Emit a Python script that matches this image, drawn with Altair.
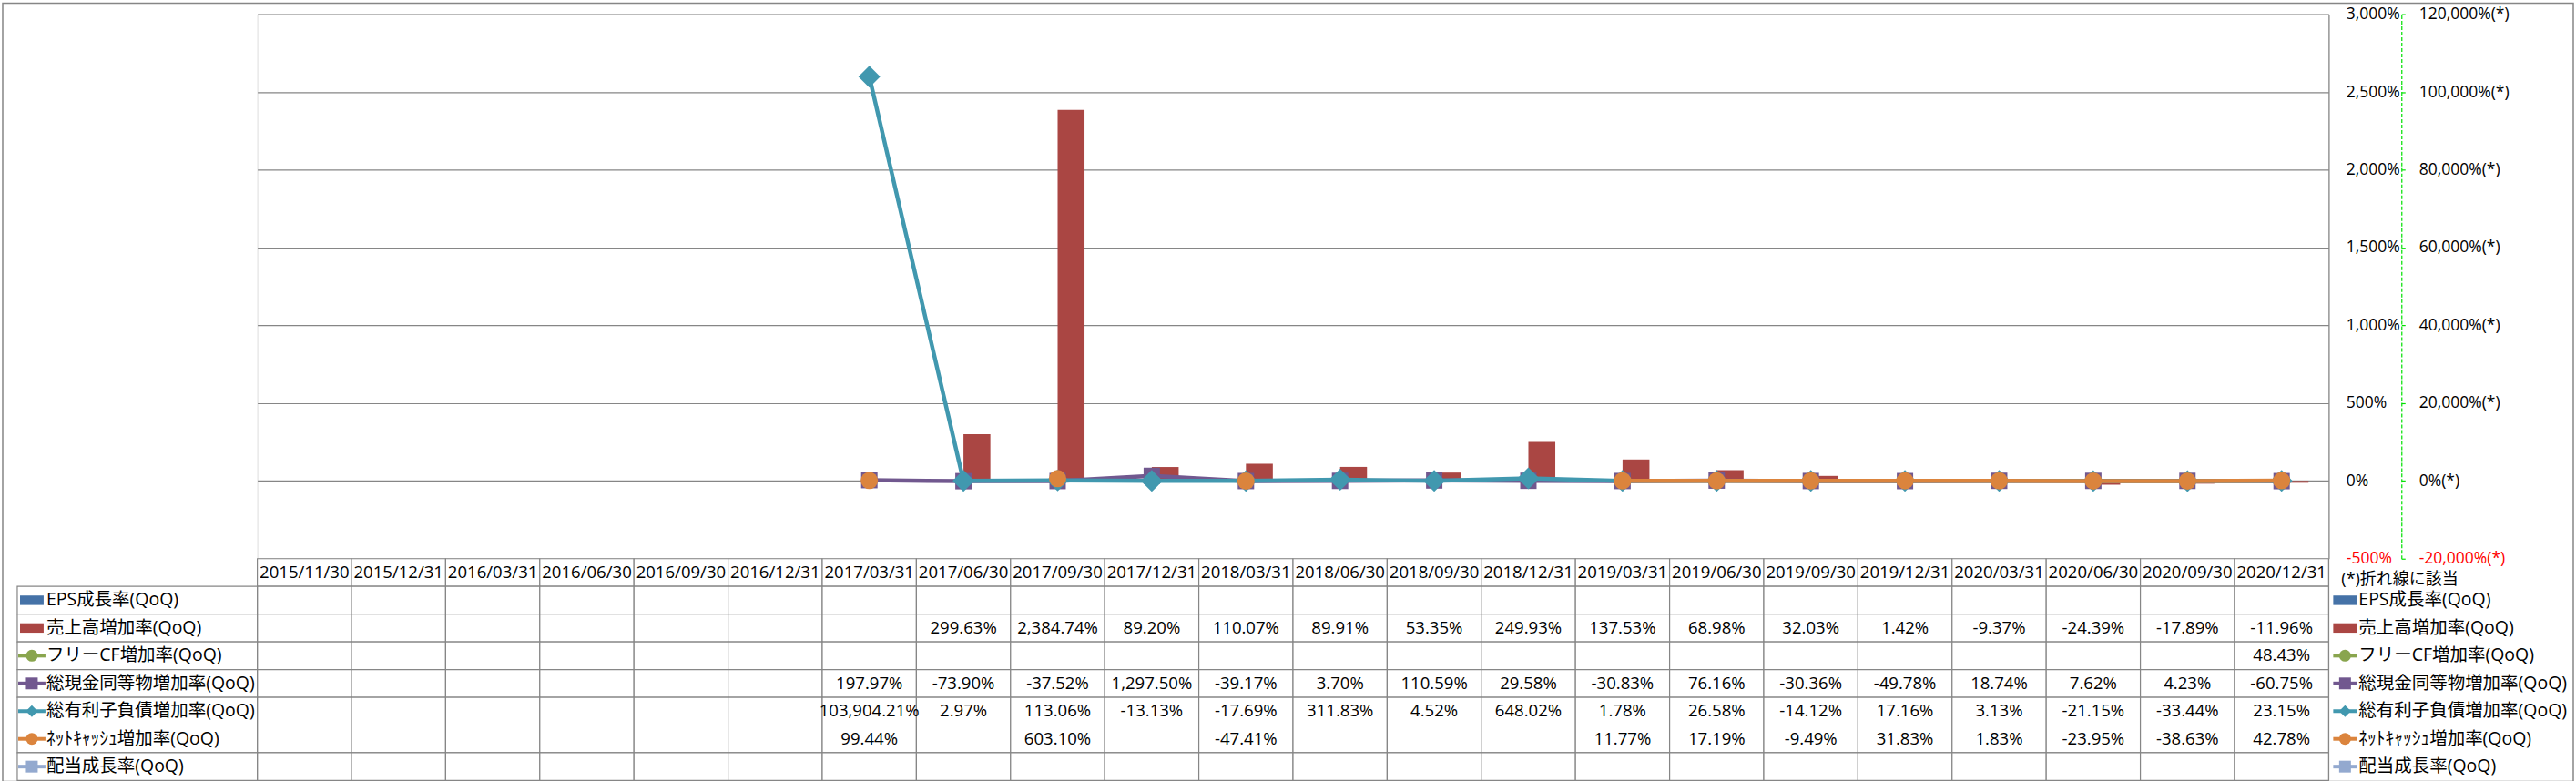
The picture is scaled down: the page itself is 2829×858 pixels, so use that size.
import altair as alt
import pandas as pd

# ---------------- data ----------------
dates = ["2015/11/30", "2015/12/31", "2016/03/31", "2016/06/30", "2016/09/30", "2016/12/31",
         "2017/03/31", "2017/06/30", "2017/09/30", "2017/12/31", "2018/03/31", "2018/06/30",
         "2018/09/30", "2018/12/31", "2019/03/31", "2019/06/30", "2019/09/30", "2019/12/31",
         "2020/03/31", "2020/06/30", "2020/09/30", "2020/12/31"]

names = ["EPS成長率(QoQ)", "売上高増加率(QoQ)", "フリーCF増加率(QoQ)", "総現金同等物増加率(QoQ)",
         "総有利子負債増加率(QoQ)", "ﾈｯﾄｷｬｯｼｭ増加率(QoQ)", "配当成長率(QoQ)"]
colors = ["#4572A7", "#AA4643", "#89A54E", "#71588F", "#4198AF", "#DB843D", "#93A9CF"]
kinds = ["bar", "bar", "line", "line", "line", "line", "line"]
shapes = ["bar", "bar", "circle", "square", "diamond", "circle", "square"]

N = None
eps = [N] * 22
sales = [N] * 7 + [299.63, 2384.74, 89.20, 110.07, 89.91, 53.35, 249.93, 137.53, 68.98,
                   32.03, 1.42, -9.37, -24.39, -17.89, -11.96]
fcf = [N] * 21 + [48.43]
cash = [N] * 6 + [197.97, -73.90, -37.52, 1297.50, -39.17, 3.70, 110.59, 29.58, -30.83,
                  76.16, -30.36, -49.78, 18.74, 7.62, 4.23, -60.75]
debt = [N] * 6 + [103904.21, 2.97, 113.06, -13.13, -17.69, 311.83, 4.52, 648.02, 1.78,
                  26.58, -14.12, 17.16, 3.13, -21.15, -33.44, 23.15]
netcash = [N] * 6 + [99.44, N, 603.10, N, -47.41, N, N, N, 11.77, 17.19, -9.49, 31.83,
                     1.83, -23.95, -38.63, 42.78]
dividend = [N] * 22
series_values = [eps, sales, fcf, cash, debt, netcash, dividend]

left_ticks = [-500, 0, 500, 1000, 1500, 2000, 2500, 3000]
right_ticks = [-20000, 0, 20000, 40000, 60000, 80000, 100000, 120000]

# ---------------- style ----------------
FONT = "'Open Sans', 'Noto Sans CJK JP', sans-serif"
GRAY = "#868686"
BAR_PATH = "M-1,-0.4H1V0.4H-1Z"
PLOT_W = 2278
PLOT_H = 599
TABLE_H = 244

x_scale = alt.Scale(domain=dates, paddingInner=0, paddingOuter=0)
X = alt.X("date:N", scale=x_scale, axis=None)

# ---------------- top plot ----------------
bar_rows = []
for name, vals in zip(names[:2], series_values[:2]):
    for d, v in zip(dates, vals):
        if v is not None:
            bar_rows.append({"date": d, "series": name, "value": v})

left_axis = alt.Axis(
    orient="right", values=left_ticks, grid=True, gridColor=GRAY, gridWidth=1.2,
    domain=True, domainColor=GRAY, domainWidth=1.2, ticks=False, labelPadding=19,
    labelAlign="left", labelFont=FONT, labelFontSize=17.5,
    labelExpr="replace(format(datum.value, ','), '\u2212', '-') + '%'",
    labelColor={"condition": {"test": "datum.value < 0", "value": "#FF0000"}, "value": "#000000"},
    title=None,
)
bars = alt.Chart(pd.DataFrame(bar_rows)).mark_bar(opacity=1).encode(
    x=X,
    xOffset=alt.XOffset("series:N", scale=alt.Scale(domain=names[:2], paddingInner=0, paddingOuter=0.75)),
    y=alt.Y("value:Q", scale=alt.Scale(domain=[-500, 3000], nice=False, zero=False), axis=left_axis),
    color=alt.Color("series:N", scale=alt.Scale(domain=names, range=colors), legend=None),
)

right_axis = alt.Axis(
    orient="right", offset=80, values=right_ticks, grid=False,
    domain=True, domainColor="#00E000", domainDash=[4, 2], domainWidth=1.2,
    ticks=True, tickColor="#00E000", tickSize=4, tickWidth=1.2, labelPadding=15,
    labelAlign="left", labelFont=FONT, labelFontSize=17.5,
    labelExpr="replace(format(datum.value, ','), '\u2212', '-') + '%(*)'",
    labelColor={"condition": {"test": "datum.value < 0", "value": "#FF0000"}, "value": "#000000"},
    title=None,
)
Y2 = alt.Y("value:Q", scale=alt.Scale(domain=[-20000, 120000], nice=False, zero=False), axis=right_axis)

marker_sizes = {"circle": 361, "square": 324, "diamond": 576}
line_layers = []
for i in range(2, 7):
    vals = series_values[i]
    rows = []
    seg = 0
    prev = False
    for d, v in zip(dates, vals):
        if v is None:
            if prev:
                seg += 1
            prev = False
            continue
        rows.append({"date": d, "value": v, "seg": seg})
        prev = True
    if not rows:
        continue
    df = pd.DataFrame(rows)
    base = alt.Chart(df)
    line = base.mark_line(color=colors[i], strokeWidth=4.5).encode(x=X, y=Y2, detail="seg:N")
    pts = base.mark_point(filled=True, opacity=1, color=colors[i], shape=shapes[i],
                          size=marker_sizes[shapes[i]]).encode(x=X, y=Y2)
    line_layers += [line, pts]

lines = alt.layer(*line_layers)

border = alt.Chart(pd.DataFrame({"a": [0]})).mark_rect(fillOpacity=0, stroke=GRAY, strokeWidth=1.5).encode(
    x=alt.value(-280), x2=alt.value(2547), y=alt.value(-12), y2=alt.value(844)
)

top = alt.layer(border, bars, lines).resolve_scale(y="independent").properties(width=PLOT_W, height=PLOT_H)

# ---------------- data table ----------------
rows_domain = ["hdr"] + names
row_scale = alt.Scale(domain=rows_domain, paddingInner=0, paddingOuter=0)
Yrow = alt.Y("row:N", scale=row_scale, axis=None)


def fmt(v):
    return "" if v is None else f"{v:,.2f}%"


cell_rows = [{"date": d, "row": "hdr", "label": d} for d in dates]
for name, vals in zip(names, series_values):
    for d, v in zip(dates, vals):
        cell_rows.append({"date": d, "row": name, "label": fmt(v)})
cells_df = pd.DataFrame(cell_rows)

cells = alt.Chart(cells_df).mark_rect(fill="white", stroke=GRAY, strokeWidth=1.2).encode(x=X, y=Yrow)
cell_text = alt.Chart(cells_df).mark_text(font=FONT, fontSize=18.6, color="black").encode(
    x=X, y=Yrow, text="label:N")

legend_df = pd.DataFrame({
    "row": names,
    "kind": kinds,
    "symsize": [676 if k == "bar" else 169 for k in kinds],
})
shape_range = [BAR_PATH if s == "bar" else s for s in shapes]
col_enc = alt.Color("row:N", scale=alt.Scale(domain=names, range=colors), legend=None)
shape_enc = alt.Shape("row:N", scale=alt.Scale(domain=names, range=shape_range), legend=None)


def legend_block(cx, lx0, lx1, tx, rect_x0=None):
    base = alt.Chart(legend_df)
    layers = []
    if rect_x0 is not None:
        layers.append(base.mark_rect(fill="white", stroke=GRAY, strokeWidth=1.2).encode(
            x=alt.value(rect_x0), x2=alt.value(0), y=Yrow))
    layers.append(base.transform_filter("datum.kind == 'line'").mark_rule(strokeWidth=4).encode(
        x=alt.value(lx0), x2=alt.value(lx1), y=Yrow, color=col_enc))
    layers.append(base.mark_point(filled=True, opacity=1).encode(
        x=alt.value(cx), y=Yrow, color=col_enc, shape=shape_enc,
        size=alt.Size("symsize:Q", scale=None, legend=None)))
    layers.append(base.mark_text(align="left", font=FONT, fontSize=19.5, color="black").encode(
        x=alt.value(tx), y=Yrow, text="row:N"))
    return layers


left_legend = legend_block(-248, -263, -233, -232, rect_x0=-264)
right_legend = legend_block(2296, 2283, 2309, 2311)

note = alt.Chart(pd.DataFrame({"row": ["hdr"], "t": ["(*)折れ線に該当"]})).mark_text(
    align="left", font=FONT, fontSize=18, color="black", dy=8).encode(
    x=alt.value(2292), y=Yrow, text="t:N")

table = alt.layer(cells, cell_text, *left_legend, *right_legend, note).properties(
    width=PLOT_W, height=TABLE_H)

chart = alt.vconcat(top, table, spacing=0, bounds="flush").properties(
    padding={"left": 1, "top": 1, "right": 1, "bottom": 1},
    autosize=alt.AutoSizeParams(type="pad"),
).configure_view(strokeWidth=0).configure(background="white")

chart.save("out.html", embed_options={"renderer": "svg", "actions": False})
